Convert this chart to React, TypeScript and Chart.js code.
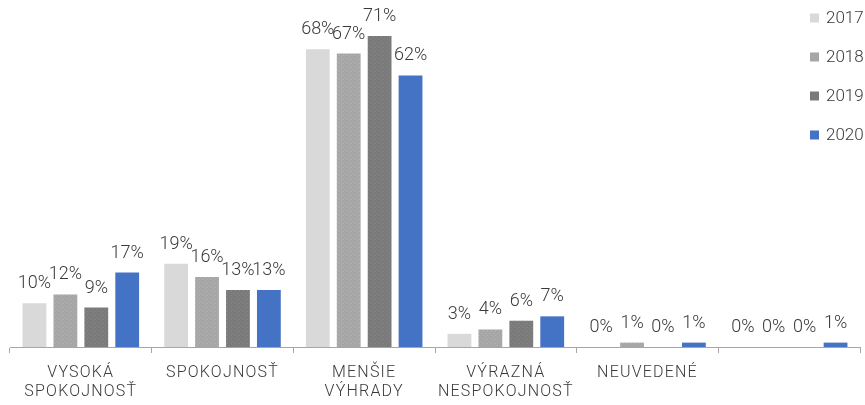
import React, { useEffect, useRef } from 'react';
import { Chart, registerables } from 'chart.js';

Chart.register(...registerables);

const categories: (string | string[])[] = [
  ['VYSOKÁ', 'SPOKOJNOSŤ'],
  'SPOKOJNOSŤ',
  ['MENŠIE', 'VÝHRADY'],
  ['VÝRAZNÁ', 'NESPOKOJNOSŤ'],
  'NEUVEDENÉ',
  '',
];
const years = ['2017', '2018', '2019', '2020'];
const values2017 = [10, 19, 68, 3, 0, 0];
const values2018 = [12, 16, 67, 4, 1, 0];
const values2019 = [9, 13, 71, 6, 0, 0];
const values2020 = [17, 13, 62, 7, 1, 1];
const seriesValues = [values2017, values2018, values2019, values2020];

const colors = ['#d9d9d9', '#a6a6a6', '#7a7a7a', '#4472c4'];
const dotColors = [null, '#b4b4b4', '#888888', null];
const FONT = 'Roboto, "DejaVu Sans", sans-serif';
const TEXT = '#3a3a3a';
const AXIS = '#a6a6a6';

function makeFill(base: string, dot: string | null): any {
  if (!dot) return base;
  const c = document.createElement('canvas');
  c.width = 4;
  c.height = 4;
  const x = c.getContext('2d')!;
  x.fillStyle = base;
  x.fillRect(0, 0, 4, 4);
  x.fillStyle = dot;
  x.fillRect(1, 1, 1, 1);
  x.fillRect(3, 3, 1, 1);
  return x.createPattern(c, 'repeat') || base;
}

const spacingPlugin = {
  id: 'spacing',
  beforeDraw(chart: any) {
    chart.ctx.letterSpacing = '1.2px';
  },
};

const dataLabelPlugin = {
  id: 'dataLabels',
  afterDatasetsDraw(chart: any) {
    const ctx = chart.ctx;
    ctx.save();
    ctx.letterSpacing = '0px';
    ctx.font = `300 18px ${FONT}`;
    ctx.fillStyle = TEXT;
    ctx.textAlign = 'center';
    ctx.textBaseline = 'alphabetic';
    chart.data.datasets.forEach((ds: any, i: number) => {
      const meta = chart.getDatasetMeta(i);
      meta.data.forEach((bar: any, j: number) => {
        ctx.fillText(`${ds.data[j]}%`, bar.x, bar.y - 15);
      });
    });
    ctx.restore();
  },
};

const legendPlugin = {
  id: 'customLegend',
  afterDraw(chart: any) {
    const ctx = chart.ctx;
    ctx.save();
    ctx.letterSpacing = '0px';
    ctx.font = `300 17px ${FONT}`;
    ctx.textAlign = 'left';
    ctx.textBaseline = 'middle';
    chart.data.datasets.forEach((ds: any, i: number) => {
      const cy = 18 + i * 39;
      ctx.fillStyle = colors[i];
      ctx.fillRect(810, cy - 4.5, 9, 9);
      ctx.fillStyle = TEXT;
      ctx.fillText(ds.label, 826, cy + 1);
    });
    ctx.restore();
  },
};

export default function App() {
  const ref = useRef<HTMLCanvasElement | null>(null);

  useEffect(() => {
    if (!ref.current) return;
    const chart = new Chart(ref.current, {
      type: 'bar',
      data: {
        labels: categories,
        datasets: years.map((y, i) => ({
          label: y,
          data: seriesValues[i],
          backgroundColor: makeFill(colors[i], dotColors[i]),
          borderWidth: 0,
          categoryPercentage: 0.873,
          barPercentage: 0.77,
        })),
      },
      options: {
        responsive: false,
        animation: false,
        devicePixelRatio: 1,
        layout: { padding: { top: 1, left: 10, right: 5, bottom: 0 } },
        plugins: {
          legend: { display: false },
          tooltip: { enabled: false },
        },
        scales: {
          x: {
            offset: true,
            grid: {
              offset: true,
              drawOnChartArea: false,
              drawTicks: true,
              tickLength: 6,
              color: AXIS,
            },
            border: { color: AXIS, width: 1 },
            ticks: {
              color: TEXT,
              padding: 10,
              maxRotation: 0,
              autoSkip: false,
              font: { family: FONT, size: 16, weight: '300', lineHeight: 1.22 },
            },
            afterFit(scale: any) {
              scale.height = 58;
            },
          },
          y: {
            display: false,
            min: 0,
            max: 79,
          },
        },
      },
      plugins: [spacingPlugin, dataLabelPlugin, legendPlugin],
    });
    return () => chart.destroy();
  }, []);

  return (
    <div style={{ position: 'absolute', left: 0, top: 0, width: 865, height: 405 }}>
      <canvas ref={ref} width={865} height={405} />
    </div>
  );
}
